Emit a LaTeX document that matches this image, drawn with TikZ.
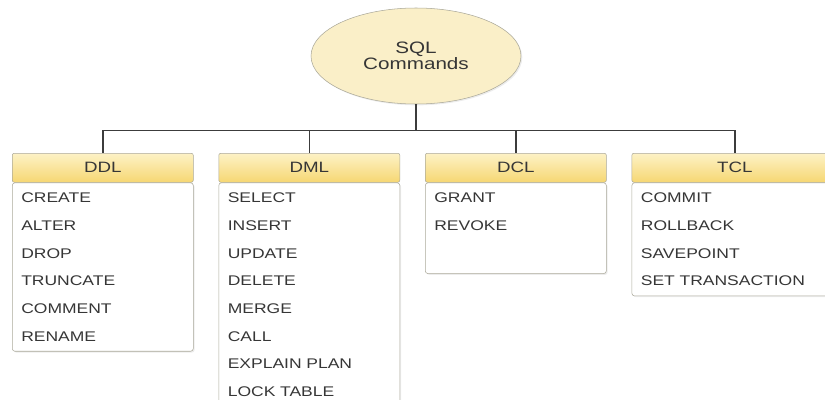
\documentclass[tikz,border=0pt]{standalone}
\usepackage{fontspec}
\setmainfont{Liberation Sans}[FakeStretch=1.25]
\usetikzlibrary{positioning,shapes.geometric,shadows,backgrounds}

\definecolor{wiregray}{HTML}{3C3C3C}
\definecolor{boxgray}{HTML}{ABA99A}
\definecolor{headtop}{HTML}{FDF2C6}
\definecolor{headbot}{HTML}{F6D773}
\definecolor{cream}{HTML}{FAEFC8}
\definecolor{inkgray}{HTML}{363636}

\begin{document}
\begin{tikzpicture}[x=0.75pt,y=0.75pt,node distance=18.75pt,
   head/.style={draw=boxgray,rounded corners=1.5pt,top color=headtop,bottom color=headbot,
      minimum width=#1,minimum height=21.75pt,inner sep=0pt,text=inkgray,
      font=\fontsize{11.25pt}{13pt}\selectfont},
   head/.default=135.75pt,
   items/.style={draw=boxgray,rounded corners=2pt,fill=white,
      drop shadow={opacity=0.15,shadow xshift=1pt,shadow yshift=-1pt},
      text width=#1,align=left,inner xsep=6.75pt,inner ysep=7.5pt,text=inkgray,
      font=\fontsize{10.5pt}{20.8pt}\selectfont},
   items/.default=122.25pt,
   wire/.style={draw=wiregray,line width=1.1pt}]
   \useasboundingbox (0,0) rectangle (825,-400);

   \node[ellipse,draw=boxgray,fill=cream,drop shadow={opacity=0.15,shadow xshift=1pt,shadow yshift=-1pt},
      minimum width=157.5pt,minimum height=72pt,align=center,text=inkgray,
      font=\fontsize{12.4pt}{12pt}\selectfont] (sql) at (416,-56) {SQL\\Commands};
   \coordinate[below=19.5pt of sql.south] (hub);

   \node[head,anchor=north west] (ddl) at (12,-153) {DDL};
   \node[head] (dml) [right=of ddl] {DML};
   \node[head] (dcl) [right=of dml] {DCL};
   \node[head=154.5pt] (tcl) [right=of dcl] {TCL};

   \begin{scope}[on background layer]
   \node[items,below=0pt of ddl] (ddl-list) {CREATE\\ALTER\\DROP\\TRUNCATE\\COMMENT\\RENAME};
   \node[items,below=0pt of dml] (dml-list) {SELECT\\INSERT\\UPDATE\\DELETE\\MERGE\\CALL\\EXPLAIN PLAN\\LOCK TABLE};
   \node[items,text depth=45.75pt,below=0pt of dcl] (dcl-list) {GRANT\\REVOKE};
   \node[items=141pt,below=0pt of tcl] (tcl-list) {COMMIT\\ROLLBACK\\SAVEPOINT\\SET TRANSACTION};
   \end{scope}

   \draw[wire] (sql) -- (hub);
   \draw[wire] (hub) -| (ddl)
               (hub) -| (dml)
               (hub) -| (dcl)
               (hub) -| (tcl);
\end{tikzpicture}
\end{document}
